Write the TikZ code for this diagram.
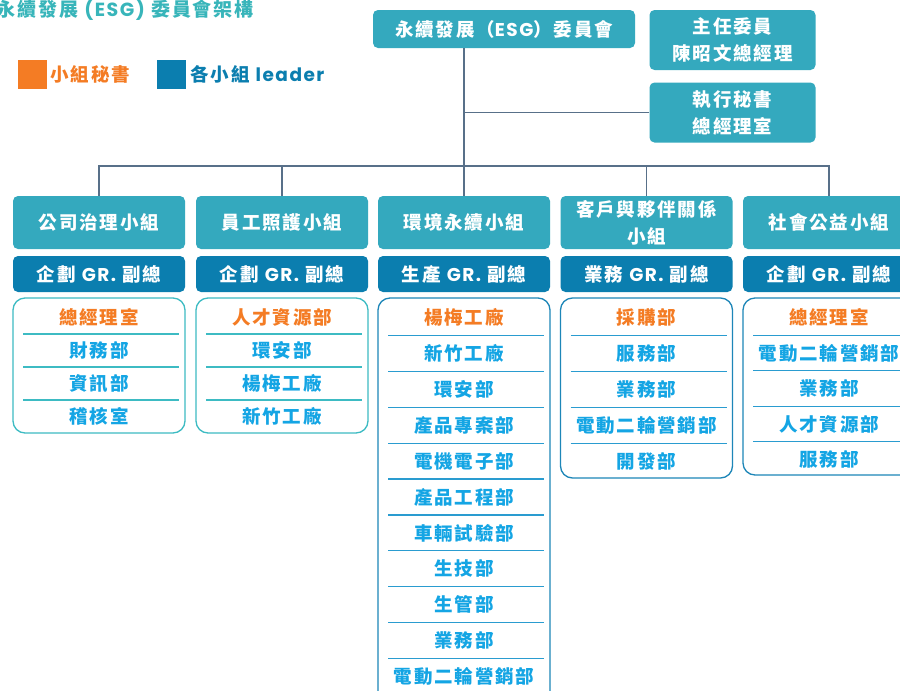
\documentclass[tikz,border=0pt]{standalone}
\usepackage{fontspec}
\newfontfamily\cjk[LetterSpace=10]{Noto Sans CJK TC}
\newfontfamily\lat[LetterSpace=8]{Poppins}
\newcommand\latn[1]{{\lat #1}}
\usetikzlibrary{positioning}

\definecolor{grpteal}{HTML}{34A9BE}
\definecolor{leadblue}{HTML}{0B7EAF}
\definecolor{titleteal}{HTML}{38B5BA}
\definecolor{secorange}{HTML}{F47C24}
\definecolor{itemblue}{HTML}{14A5E4}
\definecolor{frameteal}{HTML}{3DBBC3}
\definecolor{frameblue}{HTML}{1D86B8}
\definecolor{sepblue}{HTML}{2A9CD0}
\definecolor{linkgray}{HTML}{587089}

\begin{document}
\begin{tikzpicture}[x=1pt,y=-1pt,
  cjkfont/.style={font=\cjk\bfseries\fontsize{#1}{27}\selectfont},
  grpbox/.style={fill=grpteal, rounded corners=5pt, text=white, align=center, inner sep=1pt, cjkfont=18.5},
  leadbox/.style={fill=leadblue, rounded corners=5pt, text=white, minimum width=172pt, minimum height=36pt, inner sep=1pt, cjkfont=18.5},
  listframe/.style={line width=1.3pt, rounded corners=12pt},
  item/.style={text=itemblue, inner sep=0pt, cjkfont=18.5},
  secitem/.style={item, text=secorange},
  link/.style={draw=linkgray, line width=1.8pt},
  legtxt/.style={inner sep=0pt, cjkfont=18.5}]
  \useasboundingbox (0,0) rectangle (900,691);
  \clip (0,0) rectangle (900,691);
  \fill[white] (0,0) rectangle (900,691);

  % title and legend
  \node[anchor=east, inner sep=0pt, text=titleteal, cjkfont=19] (title) at (254,10) {永續發展 \latn{(ESG)} 委員會架構};
  \node[fill=secorange, minimum size=29pt, inner sep=0pt] (legsec) at (32.5,74.5) {};
  \node[legtxt, text=secorange, right=3pt of legsec] (legsectxt) {小組秘書};
  \node[fill=leadblue, minimum size=29pt, inner sep=0pt] (leglead) at (171.5,74.5) {};
  \node[legtxt, text=leadblue, right=4pt of leglead] (legleadtxt) {各小組 \latn{leader}};

  % committee
  \node[grpbox, minimum width=262pt, minimum height=38pt] (esg) at (504,29) {永續發展（\latn{ESG}）委員會};
  \node[grpbox, minimum width=166pt, minimum height=60pt] (chair) at (732.5,40) {主任委員\\陳昭文總經理};
  \node[grpbox, minimum width=166pt, minimum height=60pt] (exec) at (732.5,112.5) {執行秘書\\總經理室};

  % groups and leaders
  \foreach \c/\x/\g/\l in {1/99/公司治理小組/企劃,2/282/員工照護小組/企劃,3/464/環境永續小組/生產,
                           4/646.5/{客戶與夥伴關係\\小組}/業務,5/829/社會公益小組/企劃}{
    \node[grpbox, minimum width=172pt, minimum height=53pt] (g\c) at (\x,222.5) {\g};
    \node[leadbox] (l\c) at (\x,274) {\l\ \latn{GR.} 副總};
  }

  % connectors
  \coordinate (bus) at (0,166);
  \draw[link] (esg.south -| g3.north) -- (g3.north);
  \draw[link] (exec.west) -- (exec.west -| g3.north);
  \draw[link] (g1.north) -- (g1.north |- bus) -- (g5.north |- bus) -- (g5.north);
  \draw[link] (g2.north) -- (g2.north |- bus);
  \draw[link] (g4.north) -- (g4.north |- bus);

  % department lists
  \foreach \c/\x/\p/\b/\fc/\sc/\lst in {
      1/99/33/433/frameteal/frameteal/{總經理室,財務部,資訊部,稽核室},
      2/282/33/433/frameteal/frameteal/{人才資源部,環安部,楊梅工廠,新竹工廠},
      3/464/35.9/712/frameblue/sepblue/{楊梅工廠,新竹工廠,環安部,產品專案部,電機電子部,產品工程部,車輛試驗部,生技部,生管部,業務部,電動二輪營銷部},
      4/646.5/36/478/frameblue/sepblue/{採購部,服務部,業務部,電動二輪營銷部,開發部},
      5/829/35.5/475/frameblue/sepblue/{總經理室,電動二輪營銷部,業務部,人才資源部,服務部}}{
    \draw[listframe, draw=\fc] (\x-86,298) rectangle (\x+86,\b);
    \foreach \t [count=\i] in \lst {
      \pgfmathsetmacro\yy{317.5+\p*(\i-1)}
      \ifnum\i=1 \def\st{secitem}\else\def\st{item}
        \draw[draw=\sc, line width=1.2pt] (\x-76,\yy-\p/2) -- (\x+80,\yy-\p/2);
      \fi
      \node[\st] (d\c-\i) at (\x,\yy) {\t};
    }
  }
\end{tikzpicture}
\end{document}
